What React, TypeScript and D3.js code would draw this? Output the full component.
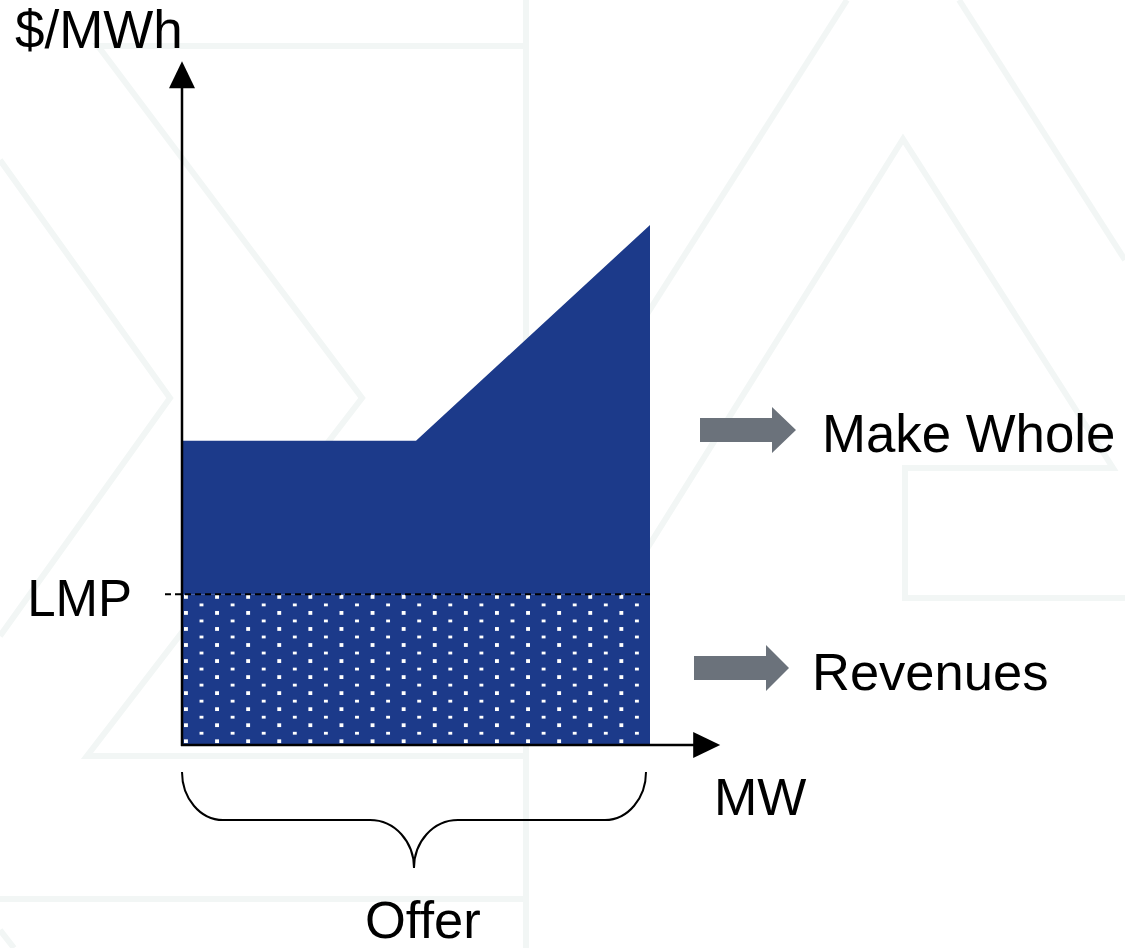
import React from "react";
import * as d3 from "d3";

// ---- data (illustrative offer curve, $/MWh vs MW) ----
const offerMW = [0, 50, 100];
const offerPrice = [58.5, 58.5, 100];
const lmpPrice = 29;
const axisTitles = ["$/MWh", "MW"];
const refLabel = "LMP";
const braceLabel = "Offer";
const sideLabels = ["Make Whole", "Revenues"];

// decorative watermark lines (pixel layout)
const BG_LINES: [number, number][][] = [
  [[0, 160], [170, 398], [0, 636]],
  [[526, 46], [98, 46], [362, 398], [87, 756], [526, 756]],
  [[0, 899], [526, 899]],
  [[526, 0], [526, 948]],
  [[0, 930], [14, 948]],
  [[847, 0], [600, 388]],
  [[560, 688], [903, 139], [1113, 468], [905, 468], [905, 598], [1125, 598]],
  [[959, 0], [1125, 260]],
];

const W = 1125;
const H = 948;
const BLUE = "#1c3a8a";
const GREY = "#6b727b";
const FONT = "'Liberation Sans', Arial, Helvetica, sans-serif";

export default function App() {
  const x = d3.scaleLinear().domain([0, 100]).range([182, 650]);
  const y = d3.scaleLinear().domain([0, 100]).range([745, 225]);
  const xAxisMax = 115;
  const yAxisMax = 131.5;

  const pts = offerMW.map((m, i) => ({ m, p: offerPrice[i] }));
  const makeWhole = d3
    .area<{ m: number; p: number }>()
    .x((d) => x(d.m))
    .y0(() => y(lmpPrice))
    .y1((d) => y(d.p))(pts) as string;
  const revenue = d3
    .area<number>()
    .x((d) => x(d))
    .y0(() => y(0))
    .y1(() => y(lmpPrice))([offerMW[0], offerMW[offerMW.length - 1]]) as string;

  const line = d3.line<[number, number]>();

  const x0 = x(0);
  const yb = y(0);
  const yTip = y(yAxisMax);
  const xTip = x(xAxisMax);
  const aLen = 27;
  const aHalf = 13;

  // brace
  const bl = x(0);
  const br = x(100) - 4;
  const bm = (bl + br) / 2;
  const bTop = yb + 27;
  const bMid = yb + 75;
  const bTipY = yb + 123;
  const brace = `M${bl},${bTop} C${bl},${bTop + 26} ${bl + 18},${bMid} ${bl + 41},${bMid}
    L${bm - 44},${bMid} C${bm - 19},${bMid} ${bm},${bMid + 22} ${bm},${bTipY}
    C${bm},${bMid + 22} ${bm + 19},${bMid} ${bm + 44},${bMid}
    L${br - 41},${bMid} C${br - 18},${bMid} ${br},${bTop + 26} ${br},${bTop}`;

  const blockArrow = (x1: number, yc: number, shaftLen: number, headLen: number) => {
    const sh = 12;
    const hh = 23;
    const xs = x1 + shaftLen;
    const xt = xs + headLen;
    return `M${x1},${yc - sh} L${xs},${yc - sh} L${xs},${yc - hh} L${xt},${yc} L${xs},${yc + hh} L${xs},${yc + sh} L${x1},${yc + sh} Z`;
  };

  return (
    <svg
      width={W}
      height={H}
      viewBox={`0 0 ${W} ${H}`}
      style={{ position: "absolute", left: 0, top: 0, display: "block", background: "#fff" }}
    >
      <defs>
        <pattern
          id="dots"
          patternUnits="userSpaceOnUse"
          x={184}
          y={595}
          width={31.1}
          height={16.04}
        >
          <rect x={0} y={0} width={3.6} height={3.6} fill="#fff" shapeRendering="crispEdges" />
          <rect x={15.55} y={8.02} width={3.6} height={3.6} fill="#fff" shapeRendering="crispEdges" />
        </pattern>
      </defs>
      <rect x={0} y={0} width={W} height={H} fill="#fff" />
      <g fill="none" stroke="#f2f6f5" strokeWidth={6} strokeLinejoin="miter">
        {BG_LINES.map((l, i) => (
          <path key={i} d={line(l) as string} />
        ))}
      </g>

      <path d={makeWhole} fill={BLUE} />
      <path d={revenue} fill={BLUE} />
      <path d={revenue} fill="url(#dots)" />

      <line
        x1={165}
        x2={x(100)}
        y1={y(lmpPrice)}
        y2={y(lmpPrice)}
        stroke="#000"
        strokeWidth={2}
        strokeDasharray="6 4"
      />

      {/* axes */}
      <line x1={x0} x2={x0} y1={yb + 1} y2={yTip + aLen - 2} stroke="#000" strokeWidth={2.5} />
      <path d={`M${x0},${yTip} L${x0 - aHalf},${yTip + aLen} L${x0 + aHalf},${yTip + aLen} Z`} fill="#000" />
      <line x1={x0 - 1} x2={xTip - aLen + 2} y1={yb} y2={yb} stroke="#000" strokeWidth={2.5} />
      <path d={`M${xTip},${yb} L${xTip - aLen},${yb - aHalf} L${xTip - aLen},${yb + aHalf} Z`} fill="#000" />

      <path d={brace} fill="none" stroke="#000" strokeWidth={2} />

      <path d={blockArrow(700, 430, 72, 24)} fill={GREY} />
      <path d={blockArrow(694, 668, 72, 23)} fill={GREY} />

      <g fontFamily={FONT} fill="#000">
        <text x={15} y={48} fontSize={53}>{axisTitles[0]}</text>
        <text x={714} y={815} fontSize={52}>{axisTitles[1]}</text>
        <text x={132} y={616} fontSize={51} textAnchor="end">{refLabel}</text>
        <text x={365} y={938} fontSize={52.5}>{braceLabel}</text>
        <text x={822} y={452} fontSize={52.8}>{sideLabels[0]}</text>
        <text x={812} y={690} fontSize={52.5}>{sideLabels[1]}</text>
      </g>
    </svg>
  );
}
